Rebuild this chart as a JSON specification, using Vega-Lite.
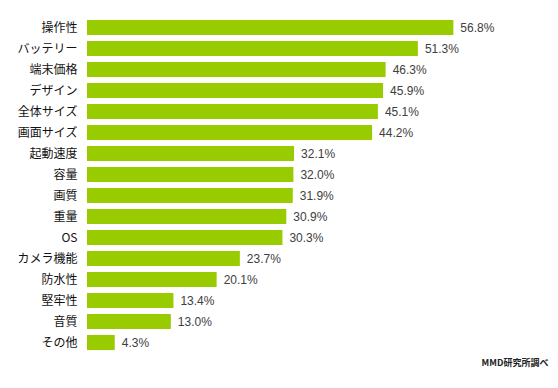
{
  "$schema": "https://vega.github.io/schema/vega-lite/v6.json",
  "autosize": "none",
  "width": 387,
  "height": 336,
  "padding": {"left": 87, "top": 17, "right": 84, "bottom": 35},
  "background": "white",
  "config": {"view": {"stroke": null}, "font": "Noto Sans CJK JP"},
  "title": {
    "text": "MMD研究所調べ",
    "orient": "bottom",
    "anchor": "end",
    "align": "right",
    "dx": 54,
    "offset": 6,
    "fontSize": 9,
    "fontWeight": "bold",
    "color": "#222222",
    "font": "Noto Sans CJK JP"
  },
  "data": {
    "values": [
      {"item": "操作性", "value": 56.8},
      {"item": "バッテリー", "value": 51.3},
      {"item": "端末価格", "value": 46.3},
      {"item": "デザイン", "value": 45.9},
      {"item": "全体サイズ", "value": 45.1},
      {"item": "画面サイズ", "value": 44.2},
      {"item": "起動速度", "value": 32.1},
      {"item": "容量", "value": 32.0},
      {"item": "画質", "value": 31.9},
      {"item": "重量", "value": 30.9},
      {"item": "OS", "value": 30.3},
      {"item": "カメラ機能", "value": 23.7},
      {"item": "防水性", "value": 20.1},
      {"item": "堅牢性", "value": 13.4},
      {"item": "音質", "value": 13.0},
      {"item": "その他", "value": 4.3}
    ]
  },
  "encoding": {
    "y": {
      "field": "item",
      "type": "nominal",
      "sort": null,
      "scale": {"paddingInner": 0.28, "paddingOuter": 0.14},
      "axis": {
        "title": null,
        "domain": false,
        "ticks": false,
        "labelPadding": 10,
        "labelFontSize": 12,
        "labelColor": "#111111",
        "labelFont": "Noto Sans CJK JP"
      }
    },
    "x": {
      "field": "value",
      "type": "quantitative",
      "scale": {"domain": [0, 60]},
      "axis": null
    }
  },
  "layer": [
    {"mark": {"type": "bar", "color": "#99cc00"}},
    {
      "mark": {
        "type": "text",
        "align": "left",
        "dx": 7,
        "fontSize": 12,
        "color": "#404040",
        "font": "Liberation Sans",
        "text": {"expr": "format(datum.value, '.1f') + '%'"}
      }
    }
  ]
}
